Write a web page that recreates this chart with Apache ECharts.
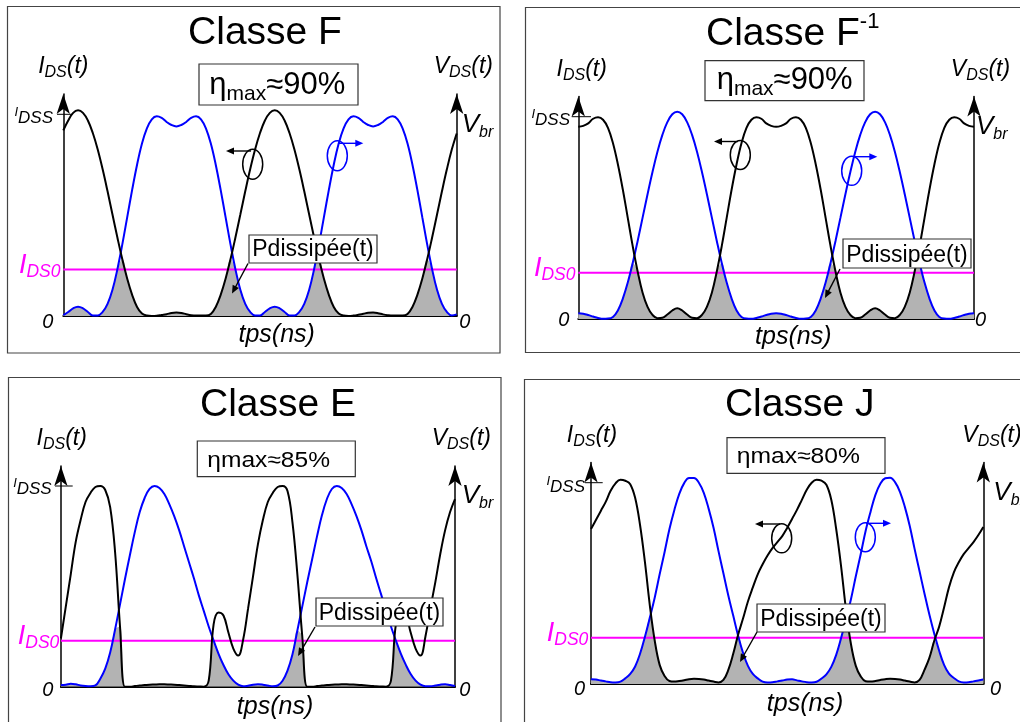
<!DOCTYPE html>
<html><head><meta charset="utf-8">
<script src="https://cdn.jsdelivr.net/npm/echarts@6/dist/echarts.min.js"></script>
<style>html,body{margin:0;padding:0;background:#fff}#c{width:1020px;height:722px}</style>
</head><body><div id="c"></div>
<script>
// ---- data (y in units of IDSS / Vbr) ----
const tps = [0,0.025,0.05,0.075,0.1,0.125,0.15,0.175,0.2,0.225,0.25,0.275,0.3,0.325,0.35,0.375,0.4,0.425,0.45,0.475,0.5,0.525,0.55,0.575,0.6,0.625,0.65,0.675,0.7,0.725,0.75,0.775,0.8,0.825,0.85,0.875,0.9,0.925,0.95,0.975,1,1.025,1.05,1.075,1.1,1.125,1.15,1.175,1.2,1.225,1.25,1.275,1.3,1.325,1.35,1.375,1.4,1.425,1.45,1.475,1.5,1.525,1.55,1.575,1.6,1.625,1.65,1.675,1.7,1.725,1.75,1.775,1.8,1.825,1.85,1.875,1.9,1.925,1.95,1.975,2];
const titles = ['Classe F', 'Classe F', 'Classe E', 'Classe J'];
const etaLabels = ['≈90%', '≈90%', 'ηmax≈85%', 'ηmax≈80%'];
const IDS0 = [0.231, 0.229, 0.229, 0.23];

const iF = [0.92,0.969,1.007,1.02,1.007,0.969,0.907,0.825,0.727,0.618,0.503,
0.389,0.281,0.185,0.105,0.045,0.012,0.002,0,0.001,0.005,
0.009,0.015,0.017,0.015,0.009,0.004,0.002,0.003,0.002,0.01,
0.045,0.105,0.185,0.281,0.389,0.503,0.618,0.727,0.825,0.907,
0.969,1.007,1.02,1.007,0.969,0.907,0.825,0.727,0.618,0.503,
0.389,0.281,0.185,0.105,0.045,0.012,0.002,0,0.002,0.006,
0.011,0.016,0.017,0.014,0.008,0.004,0.002,0.003,0.002,0.01,
0.045,0.105,0.185,0.281,0.389,0.503,0.618,0.727,0.825,0.905];
const vF = [0.004,0.02,0.038,0.046,0.038,0.02,0.003,0.003,0.02,0.06,0.13,
0.232,0.355,0.49,0.625,0.75,0.855,0.93,0.975,0.99,0.982,
0.962,0.947,0.94,0.947,0.962,0.982,0.99,0.975,0.93,0.855,
0.75,0.625,0.49,0.355,0.232,0.13,0.06,0.02,0.003,0.003,
0.02,0.038,0.046,0.038,0.02,0.003,0.003,0.02,0.06,0.13,
0.232,0.355,0.49,0.625,0.75,0.855,0.93,0.975,0.99,0.982,
0.962,0.947,0.94,0.947,0.962,0.982,0.99,0.975,0.93,0.855,
0.75,0.625,0.49,0.355,0.232,0.13,0.06,0.02,0.003,0.008];
const iFi = [0.95,0.955,0.967,0.99,0.997,0.985,0.945,0.87,0.765,0.64,0.5,
0.36,0.235,0.13,0.06,0.02,0.004,0.006,0.022,0.042,0.053,
0.042,0.022,0.006,0.004,0.02,0.06,0.13,0.235,0.36,0.5,
0.64,0.765,0.87,0.945,0.985,0.997,0.99,0.967,0.955,0.95,
0.955,0.967,0.99,0.997,0.985,0.945,0.87,0.765,0.64,0.5,
0.36,0.235,0.13,0.06,0.02,0.004,0.006,0.022,0.042,0.053,
0.042,0.022,0.006,0.004,0.02,0.06,0.13,0.235,0.36,0.5,
0.64,0.765,0.87,0.945,0.985,0.997,0.99,0.967,0.955,0.95];
const vFi = [0.028,0.026,0.02,0.012,0.005,0.001,0.002,0.01,0.042,0.101,0.18,
0.277,0.386,0.501,0.617,0.727,0.827,0.91,0.973,1.012,1.025,
1.012,0.973,0.91,0.827,0.727,0.617,0.501,0.386,0.277,0.18,
0.101,0.042,0.01,0.002,0.001,0.005,0.012,0.02,0.026,0.028,
0.026,0.02,0.012,0.005,0.001,0.002,0.01,0.042,0.101,0.18,
0.277,0.386,0.501,0.617,0.727,0.827,0.91,0.973,1.012,1.025,
1.012,0.973,0.91,0.827,0.727,0.617,0.501,0.386,0.277,0.18,
0.101,0.042,0.01,0.002,0.001,0.005,0.012,0.02,0.026,0.028];
const iE = [0.24,0.4,0.56,0.72,0.83,0.92,0.965,0.995,1,0.98,0.895,
0.67,0.3,0,0,0.003,0.006,0.008,0.01,0.011,0.012,
0.012,0.011,0.01,0.008,0.006,0.004,0.002,0.001,0,0.03,
0.31,0.37,0.355,0.27,0.19,0.155,0.235,0.39,0.55,0.71,
0.83,0.92,0.965,0.995,1,0.975,0.82,0.56,0.25,0,
0,0.003,0.006,0.008,0.01,0.011,0.012,0.012,0.011,0.01,
0.008,0.006,0.004,0.002,0.001,0,0.03,0.31,0.37,0.355,
0.27,0.19,0.155,0.25,0.39,0.52,0.66,0.78,0.87,0.935];
const vE = [0.008,0.01,0.015,0.012,0.006,0.003,0.002,0.006,0.04,0.09,0.17,
0.285,0.41,0.535,0.655,0.77,0.87,0.94,0.985,1,0.99,
0.96,0.91,0.85,0.78,0.7,0.62,0.54,0.455,0.378,0.3,
0.23,0.164,0.108,0.062,0.03,0.01,0.002,0.005,0.01,0.012,
0.01,0.006,0.002,0.006,0.03,0.08,0.16,0.28,0.4,0.52,
0.635,0.75,0.855,0.935,0.985,1,0.99,0.96,0.91,0.85,
0.78,0.7,0.625,0.54,0.46,0.38,0.3,0.23,0.165,0.11,
0.063,0.03,0.01,0.002,0.002,0.006,0.01,0.012,0.008,0.003];
const iJ = [0.77,0.815,0.86,0.905,0.96,0.997,1.015,1.01,0.993,0.925,0.79,
0.605,0.39,0.215,0.095,0.04,0.015,0.012,0.015,0.019,0.024,
0.026,0.025,0.022,0.017,0.012,0.008,0.02,0.07,0.15,0.245,
0.325,0.41,0.48,0.545,0.595,0.638,0.675,0.705,0.735,0.775,
0.82,0.865,0.915,0.965,1,1.015,1.01,0.99,0.915,0.77,
0.585,0.37,0.2,0.09,0.038,0.014,0.012,0.015,0.02,0.024,
0.026,0.025,0.022,0.017,0.012,0.008,0.02,0.07,0.13,0.215,
0.285,0.38,0.48,0.555,0.605,0.645,0.675,0.705,0.74,0.78];
const vJ = [0.023,0.022,0.017,0.013,0.009,0.008,0.012,0.028,0.05,0.087,0.15,
0.235,0.33,0.43,0.545,0.655,0.77,0.865,0.945,0.998,1.024,
1.024,1,0.95,0.87,0.775,0.66,0.55,0.44,0.34,0.24,
0.155,0.09,0.05,0.028,0.012,0.008,0.009,0.013,0.017,0.022,
0.023,0.018,0.013,0.009,0.008,0.011,0.027,0.048,0.085,0.145,
0.228,0.322,0.42,0.535,0.645,0.76,0.855,0.94,0.995,1.022,
1.025,1.003,0.955,0.88,0.785,0.67,0.56,0.45,0.345,0.25,
0.165,0.095,0.052,0.03,0.013,0.008,0.009,0.013,0.017,0.022];

// ---- layout ----
const currents = [iF, iFi, iE, iJ];
const voltages = [vF, vFi, vE, vJ];
const grids = [
  {left: 63.3, top: 94.1, width: 393.4, height: 221.9},
  {left: 578.3, top: 96.5, width: 395.7, height: 222.5},
  {left: 60.9, top: 465.9, width: 394.1, height: 220.8},
  {left: 591, top: 462.6, width: 392.3, height: 221.4}
];
const YMAX = 1.1;
const FONT = '"Liberation Sans", Arial, Helvetica, sans-serif';
const MAG = '#ff00ff', BLUE = '#0000ff';
const mctx = document.createElement('canvas').getContext('2d');
function fontStr(size, italic) { return (italic ? 'italic ' : '') + size + 'px ' + FONT; }
function tw(t, size, italic) { mctx.font = fontStr(size, italic); return mctx.measureText(t).width; }
const MID = 0.24;
function txt(t, x, base, size, o) {
  o = o || {};
  return {type: 'text', x: x, y: base - MID * size, z: o.z || 50, scaleX: o.scaleX || 1, silent: true,
    style: {text: t, font: fontStr(size, o.italic), fill: o.color || '#000',
      textAlign: 'left', textVerticalAlign: 'middle', align: 'left', verticalAlign: 'middle'}};
}
function compose(x, base, align, segs, color, z) {
  const ws = segs.map(s => tw(s[0], s[1], s[3]));
  const tot = ws.reduce((a, b) => a + b, 0);
  let cx = align === 'center' ? x - tot / 2 : align === 'right' ? x - tot : x;
  return segs.map((s, i) => { const e = txt(s[0], cx, base + (s[2] || 0), s[1], {italic: s[3], color: color, z: z}); cx += ws[i]; return e; });
}
function arrow(x1, y1, x2, y2, color) {
  const dx = x2 - x1, dy = y2 - y1, L = Math.hypot(dx, dy), ux = dx / L, uy = dy / L;
  const hl = 8, hw = 3.5, bx = x2 - ux * hl, by = y2 - uy * hl;
  return [
    {type: 'line', z: 60, silent: true, shape: {x1: x1, y1: y1, x2: bx + ux * 2, y2: by + uy * 2}, style: {stroke: color, lineWidth: 1.4}},
    {type: 'polygon', z: 60, silent: true, shape: {points: [[x2, y2], [bx - uy * hw, by + ux * hw], [bx + uy * hw, by - ux * hw]]}, style: {fill: color}}
  ];
}
function rect(x, y, w, h, fill, z, stroke) {
  return {type: 'rect', z: z, silent: true, shape: {x: x, y: y, width: w, height: h},
    style: {fill: fill || 'none', stroke: stroke || '#333', lineWidth: 1.2}};
}
function ell(cx, cy, rx, ry, color) {
  return {type: 'ellipse', z: 60, silent: true, shape: {cx: cx, cy: cy, rx: rx, ry: ry}, style: {fill: 'none', stroke: color, lineWidth: 1.5}};
}
function hline(x1, x2, y) {
  return {type: 'line', z: 60, silent: true, shape: {x1: x1, y1: y, x2: x2, y2: y}, style: {stroke: '#000', lineWidth: 1}};
}
const Il = [['I', 23, 0, true], ['DS', 16, 4, true], ['(t)', 23, 0, true]];
const Vl = [['V', 23, 0, true], ['DS', 16, 4, true], ['(t)', 23, 0, true]];
const IDSS = [['I', 13, -6, true], ['DSS', 17, 0, true]];
const IDSO = [['I', 27, 0, true], ['DS0', 17.5, 4.5, true]];
const VBR = [['V', 26, 0, true], ['br', 16, 5, true]];
const TPS = [['tps(ns)', 25, 0, true]];
const ZERO = [['0', 20, 0, true]];
const PD = [['Pdissipée(t)', 23, 0, false]];

let G = [];
// frames
G.push(rect(7.5, 6.5, 492.5, 346.5, 'none', 1, '#444'));
G.push(rect(525.5, 7.5, 500, 345, 'none', 1, '#444'));
G.push(rect(8.5, 377.5, 492.5, 350, 'none', 1, '#444'));
G.push(rect(524.5, 379.5, 500, 350, 'none', 1, '#444'));

// Panel F
G = G.concat(compose(265, 42.5, 'center', [[titles[0], 39, 0, false]]));
G = G.concat(compose(63.3, 72.5, 'center', Il));
G = G.concat(compose(463.3, 72.5, 'center', Vl));
G = G.concat(compose(53, 122, 'right', IDSS));
G.push(hline(57, 72, 114.3));
G = G.concat(compose(60.5, 271.5, 'right', IDSO, MAG));
G = G.concat(compose(53.3, 327, 'right', ZERO));
G = G.concat(compose(459.3, 327, 'left', ZERO));
G = G.concat(compose(461.7, 131, 'left', VBR));
G = G.concat(compose(276.7, 341.5, 'center', TPS));
G.push(rect(199, 64, 159, 41, '#fff', 70));
G = G.concat(compose(209.3, 93.3, 'left', [['η', 31, 0, false], ['max', 21, 6, false], [etaLabels[0], 31, 0, false]], '#000', 80));
G.push(rect(249, 235, 128, 28, '#fff', 70));
G = G.concat(compose(313, 255.5, 'center', PD, '#000', 80));
G = G.concat(arrow(248, 263.5, 232, 293.5, '#000'));
G.push(ell(252.7, 164.2, 10, 15, '#000'));
G = G.concat(arrow(251, 151, 226, 151, '#000'));
G.push(ell(337.3, 155.8, 10, 15, BLUE));
G = G.concat(arrow(338, 143.3, 363.3, 143.3, BLUE));

// Panel F-1
G = G.concat(compose(706, 44, 'left', [[titles[1], 39, 0, false], ['-1', 22, -16.7, false]]));
G = G.concat(compose(581.7, 75.5, 'center', Il));
G = G.concat(compose(980.5, 75.5, 'center', Vl));
G = G.concat(compose(570, 124, 'right', IDSS));
G.push(hline(571.7, 591, 116.7));
G = G.concat(compose(575.5, 275, 'right', IDSO, MAG));
G = G.concat(compose(569.3, 325, 'right', ZERO));
G = G.concat(compose(975, 325, 'left', ZERO));
G = G.concat(compose(976, 133, 'left', VBR));
G = G.concat(compose(793.3, 343.3, 'center', TPS));
G.push(rect(705, 60.7, 159, 40, '#fff', 70));
G = G.concat(compose(716.7, 88.3, 'left', [['η', 31, 0, false], ['max', 21, 6, false], [etaLabels[1], 31, 0, false]], '#000', 80));
G.push(rect(843, 239, 128, 29, '#fff', 70));
G = G.concat(compose(907, 261, 'center', PD, '#000', 80));
G = G.concat(arrow(840, 269, 825, 298, '#000'));
G.push(ell(740.3, 155, 10, 14.5, '#000'));
G = G.concat(arrow(738, 141.5, 714, 141.5, '#000'));
G.push(ell(851.7, 170.8, 10, 14.5, BLUE));
G = G.concat(arrow(853, 156.7, 877.3, 156.7, BLUE));

// Panel E
G = G.concat(compose(278, 415, 'center', [[titles[2], 39, 0, false]]));
G = G.concat(compose(61.7, 444.5, 'center', Il));
G = G.concat(compose(461.3, 444.5, 'center', Vl));
G = G.concat(compose(51.7, 493, 'right', IDSS));
G.push(hline(55, 72.7, 486));
G = G.concat(compose(59.3, 643, 'right', IDSO, MAG));
G = G.concat(compose(53.3, 695, 'right', ZERO));
G = G.concat(compose(459.3, 695, 'left', ZERO));
G = G.concat(compose(461.7, 502.5, 'left', VBR));
G = G.concat(compose(275, 713.3, 'center', TPS));
G.push(rect(197.3, 441, 158, 35.7, '#fff', 70));
(function () { const w = tw(etaLabels[2], 22, false); G.push(txt(etaLabels[2], 207.3, 466, 22, {z: 80, scaleX: 122.7 / w})); })();
G.push(rect(316, 598, 127, 28, '#fff', 70));
G = G.concat(compose(379.5, 619.3, 'center', PD, '#000', 80));
G = G.concat(arrow(315, 627, 298, 656, '#000'));

// Panel J
G = G.concat(compose(799.7, 415, 'center', [[titles[3], 39, 0, false]]));
G = G.concat(compose(592, 441.5, 'center', Il));
G = G.concat(compose(992, 441.5, 'center', Vl));
G = G.concat(compose(585, 491, 'right', IDSS));
G.push(hline(585, 602.7, 482.7));
G = G.concat(compose(588.3, 640, 'right', IDSO, MAG));
G = G.concat(compose(585, 694, 'right', ZERO));
G = G.concat(compose(990, 694, 'left', ZERO));
G = G.concat(compose(993.3, 499.5, 'left', VBR));
G = G.concat(compose(805, 710, 'center', TPS));
G.push(rect(727, 437.7, 158, 35.6, '#fff', 70));
(function () { const w = tw(etaLabels[3], 22, false); G.push(txt(etaLabels[3], 736.7, 462.5, 22, {z: 80, scaleX: 123.3 / w})); })();
G.push(rect(757, 604, 128, 28, '#fff', 70));
G = G.concat(compose(821, 625, 'center', PD, '#000', 80));
G = G.concat(arrow(757, 632, 740, 662, '#000'));
G.push(ell(781.7, 538.3, 10, 14.5, '#000'));
G = G.concat(arrow(780, 524, 755, 524, '#000'));
G.push(ell(865.3, 537.2, 10, 14.5, BLUE));
G = G.concat(arrow(866, 523.3, 891, 523.3, BLUE));

// ---- axes & series ----
const xAxis = [], yAxis = [], series = [];
grids.forEach((g, i) => {
  xAxis.push({type: 'value', gridIndex: i, min: 0, max: 2, show: true,
    axisLine: {show: true, onZero: false, lineStyle: {color: '#000', width: 2}},
    axisTick: {show: false}, axisLabel: {show: false}, splitLine: {show: false}});
  ['left', 'right'].forEach(pos => {
    yAxis.push({type: 'value', gridIndex: i, position: pos, min: 0, max: YMAX,
      axisLine: {show: true, onZero: false, symbol: ['none', 'arrow'], symbolSize: [10, 20], lineStyle: {color: '#000', width: 1.5}},
      axisTick: {show: false}, axisLabel: {show: false}, splitLine: {show: false}});
  });
  const cur = currents[i], vol = voltages[i];
  const pd = tps.map((t, k) => [t, Math.min(cur[k], vol[k])]);
  series.push({type: 'line', xAxisIndex: i, yAxisIndex: 2 * i, data: pd, smooth: 0.4, symbol: 'none', silent: true,
    lineStyle: {width: 0}, areaStyle: {color: '#b3b3b3', opacity: 1}, z: 1});
  series.push({type: 'line', xAxisIndex: i, yAxisIndex: 2 * i, data: [[0, IDS0[i]], [2, IDS0[i]]], symbol: 'none', silent: true,
    lineStyle: {color: MAG, width: 2}, z: 2});
  series.push({type: 'line', xAxisIndex: i, yAxisIndex: 2 * i, data: tps.map((t, k) => [t, vol[k]]), smooth: 0.4, symbol: 'none', silent: true,
    lineStyle: {color: BLUE, width: 2}, z: 3});
  series.push({type: 'line', xAxisIndex: i, yAxisIndex: 2 * i, data: tps.map((t, k) => [t, cur[k]]), smooth: 0.4, symbol: 'none', silent: true,
    lineStyle: {color: '#000', width: 2}, z: 4});
});

const chart = echarts.init(document.getElementById('c'));
chart.setOption({
  animation: false,
  backgroundColor: '#fff',
  grid: grids.map(g => Object.assign({containLabel: false}, g)),
  xAxis: xAxis, yAxis: yAxis, series: series,
  graphic: {elements: G}
});
</script></body></html>
